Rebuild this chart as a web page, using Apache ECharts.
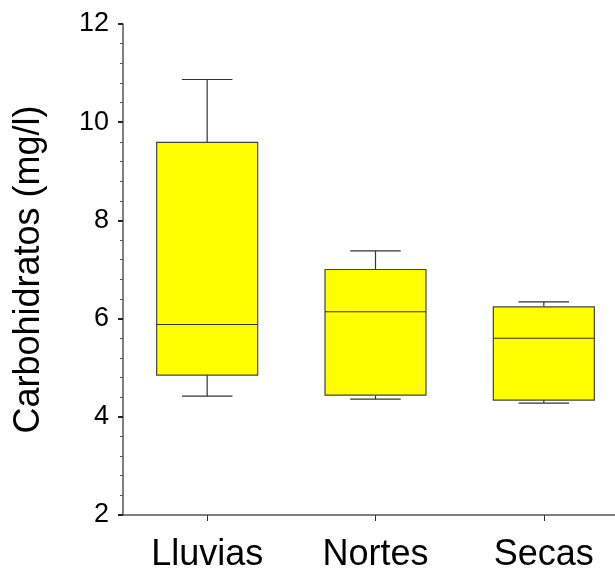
<!DOCTYPE html>
<html>
<head>
<meta charset="utf-8">
<script src="https://cdn.jsdelivr.net/npm/echarts@6/dist/echarts.min.js"></script>
<style>html,body{margin:0;padding:0;background:#fff}#c{width:615px;height:573px}</style>
</head>
<body>
<div id="c"></div>
<script>
const categories = ['Lluvias', 'Nortes', 'Secas'];
const minValues = [4.42, 4.36, 4.28];
const q1Values = [4.85, 4.44, 4.34];
const medianValues = [5.88, 6.14, 5.60];
const q3Values = [9.59, 7.00, 6.24];
const maxValues = [10.87, 7.38, 6.34];
const yTicks = [2, 4, 6, 8, 10, 12];

const FONT = '"Liberation Sans", Arial, sans-serif';
const data = categories.map((c, i) => [i, minValues[i], q1Values[i], medianValues[i], q3Values[i], maxValues[i]]);

const chart = echarts.init(document.getElementById('c'), null, {renderer: 'canvas'});
chart.setOption({
  animation: false,
  backgroundColor: '#ffffff',
  grid: {left: 123, top: 24, bottom: 58, right: -13, containLabel: false, outerBoundsMode: 'none'},
  xAxis: {
    type: 'category',
    data: categories,
    axisLine: {lineStyle: {color: '#555', width: 1.5}},
    axisTick: {show: true, alignWithLabel: true, length: 6, lineStyle: {color: '#333'}},
    axisLabel: {fontSize: 36, color: '#000', fontFamily: FONT, margin: 22},
    splitLine: {show: false}
  },
  yAxis: {
    type: 'value',
    min: yTicks[0], max: yTicks[yTicks.length - 1], interval: 2,
    name: 'Carbohidratos (mg/l)',
    nameLocation: 'middle',
    nameGap: 76,
    nameTextStyle: {fontSize: 36, color: '#000', fontFamily: FONT},
    axisLine: {show: true, lineStyle: {color: '#555', width: 1.5}},
    axisTick: {show: true, length: 5, lineStyle: {color: '#222', width: 2}},
    minorTick: {show: true, splitNumber: 5, length: 3, lineStyle: {color: '#555'}},
    axisLabel: {fontSize: 27, color: '#000', fontFamily: FONT, margin: 14},
    splitLine: {show: false}
  },
  series: [{
    type: 'custom',
    data: data,
    encode: {x: 0, y: [1, 2, 3, 4, 5]},
    renderItem: function (params, api) {
      const x = api.value(0);
      const pMin = api.coord([x, api.value(1)]);
      const pQ1 = api.coord([x, api.value(2)]);
      const pMed = api.coord([x, api.value(3)]);
      const pQ3 = api.coord([x, api.value(4)]);
      const pMax = api.coord([x, api.value(5)]);
      const band = api.size([1, 0])[0];
      const bw = band * 0.6;
      const cw = bw / 2;
      const cx = pMed[0];
      const lineStyle = {stroke: '#333', lineWidth: 1.2, fill: null};
      return {
        type: 'group',
        children: [
          {type: 'line', shape: {x1: cx, y1: pQ3[1], x2: cx, y2: pMax[1]}, style: lineStyle},
          {type: 'line', shape: {x1: cx - cw / 2, y1: pMax[1], x2: cx + cw / 2, y2: pMax[1]}, style: lineStyle},
          {type: 'line', shape: {x1: cx, y1: pQ1[1], x2: cx, y2: pMin[1]}, style: lineStyle},
          {type: 'line', shape: {x1: cx - cw / 2, y1: pMin[1], x2: cx + cw / 2, y2: pMin[1]}, style: lineStyle},
          {type: 'rect', shape: {x: cx - bw / 2, y: pQ3[1], width: bw, height: pQ1[1] - pQ3[1]},
            style: {fill: '#ffff00', stroke: '#444', lineWidth: 1.2}},
          {type: 'line', shape: {x1: cx - bw / 2, y1: pMed[1], x2: cx + bw / 2, y2: pMed[1]}, style: lineStyle}
        ]
      };
    }
  }]
});
</script>
</body>
</html>
